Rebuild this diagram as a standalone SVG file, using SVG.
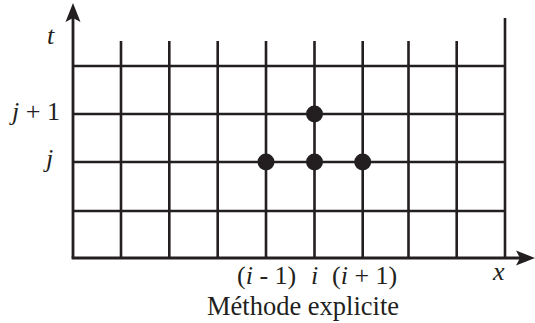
<svg xmlns="http://www.w3.org/2000/svg" width="535" height="323" viewBox="0 0 535 323">
<style>
.g{stroke:#231f20;stroke-width:2.6;fill:none}
.ax{stroke:#231f20;stroke-width:2.8;fill:none}
.dot{fill:#231f20}
.lbl{font-family:'Liberation Serif','Times New Roman','DejaVu Serif',serif;font-size:26px;fill:#231f20}
.it{font-style:italic}
</style>
<defs>
<path id="ah" d="M0,0 L-19,-7.5 L-15,0 L-19,7.5 Z" fill="#231f20"/>
</defs>
<g id="grid">
<path class="g" d="M121,41V258M169.3,41V258M217.7,41V258M266,41V258M314.5,41V258M362.7,41V258M408.5,41V258M456.7,41V258M505,18V258"/>
<path class="g" d="M73,66H505M73,114H505M73,162H505M73,211H505"/>
</g>
<g id="connectors">
<path class="ax" d="M73,258V14"/>
<use href="#ah" transform="translate(73,3) rotate(-90)"/>
<path class="ax" d="M71.6,258H524"/>
<use href="#ah" transform="translate(535,258)"/>
</g>
<g id="n-top"><circle class="dot" cx="314.5" cy="114" r="8.5"/></g>
<g id="n-left"><circle class="dot" cx="266" cy="162" r="8.5"/></g>
<g id="n-center"><circle class="dot" cx="314.5" cy="162" r="8.5"/></g>
<g id="n-right"><circle class="dot" cx="362.7" cy="162" r="8.5"/></g>
<g id="labels">
<text class="lbl it" x="47" y="44">t</text>
<text class="lbl" x="12" y="120"><tspan class="it">j</tspan> + 1</text>
<text class="lbl it" x="46" y="167">j</text>
<text class="lbl" x="237" y="284">(<tspan class="it">i</tspan> - 1)</text>
<text class="lbl it" x="314.5" y="284" text-anchor="middle">i</text>
<text class="lbl" x="332" y="284">(<tspan class="it">i</tspan> + 1)</text>
<text class="lbl it" x="493" y="280">x</text>
<text class="lbl" x="207" y="315" style="font-size:26.5px">Méthode explicite</text>
</g>
</svg>
